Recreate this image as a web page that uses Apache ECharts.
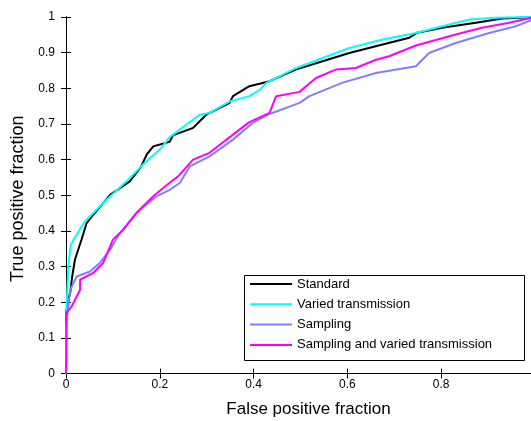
<!DOCTYPE html>
<html>
<head>
<meta charset="utf-8">
<script src="https://cdn.jsdelivr.net/npm/echarts@6/dist/echarts.min.js"></script>
<style>
html,body{margin:0;padding:0;background:#fff;}
#chart{width:531px;height:421px;}
</style>
</head>
<body>
<div id="chart"></div>
<script>
const seriesNames = ['Standard', 'Varied transmission', 'Sampling', 'Sampling and varied transmission'];
const xTicks = [0, 0.2, 0.4, 0.6, 0.8, 1];
const yTicks = [0, 0.1, 0.2, 0.3, 0.4, 0.5, 0.6, 0.7, 0.8, 0.9, 1];

const standardX = [0, 0, 0.005, 0.009, 0.013, 0.019, 0.033, 0.044, 0.058, 0.094, 0.136, 0.16, 0.172, 0.186, 0.221, 0.228, 0.271, 0.299, 0.349, 0.356, 0.391, 0.434, 0.491, 0.547, 0.604, 0.675, 0.732, 0.749, 0.802, 0.874, 0.93, 1];
const standardY = [0, 0.17, 0.21, 0.226, 0.27, 0.319, 0.375, 0.422, 0.445, 0.501, 0.539, 0.58, 0.614, 0.637, 0.65, 0.668, 0.689, 0.726, 0.759, 0.778, 0.806, 0.82, 0.853, 0.876, 0.899, 0.923, 0.942, 0.956, 0.97, 0.984, 0.996, 1];

const variedX = [0, 0.001, 0.005, 0.01, 0.016, 0.04, 0.083, 0.129, 0.164, 0.2, 0.221, 0.285, 0.306, 0.349, 0.391, 0.413, 0.427, 0.491, 0.604, 0.675, 0.746, 0.802, 0.86, 0.916, 1];
const variedY = [0, 0.18, 0.30, 0.36, 0.375, 0.426, 0.483, 0.539, 0.586, 0.628, 0.663, 0.726, 0.731, 0.763, 0.778, 0.796, 0.815, 0.857, 0.913, 0.937, 0.955, 0.974, 0.993, 0.998, 1];

const samplingX = [0, 0, 0.009, 0.023, 0.051, 0.072, 0.094, 0.115, 0.15, 0.193, 0.221, 0.243, 0.264, 0.306, 0.356, 0.398, 0.434, 0.498, 0.519, 0.59, 0.661, 0.746, 0.774, 0.831, 0.902, 0.959, 0.99, 1];
const samplingY = [0, 0.13, 0.235, 0.272, 0.286, 0.31, 0.347, 0.394, 0.45, 0.497, 0.515, 0.535, 0.581, 0.609, 0.656, 0.703, 0.728, 0.759, 0.778, 0.816, 0.843, 0.862, 0.899, 0.927, 0.955, 0.974, 0.99, 1];

const sampVariedX = [0, 0.001, 0.001, 0.012, 0.03, 0.03, 0.058, 0.079, 0.1, 0.122, 0.15, 0.186, 0.221, 0.239, 0.271, 0.306, 0.37, 0.391, 0.434, 0.448, 0.498, 0.533, 0.576, 0.618, 0.661, 0.689, 0.746, 0.831, 0.887, 0.945, 1];
const sampVariedY = [0, 0.03, 0.17, 0.188, 0.235, 0.263, 0.282, 0.31, 0.375, 0.403, 0.45, 0.497, 0.535, 0.553, 0.6, 0.619, 0.684, 0.705, 0.731, 0.778, 0.79, 0.829, 0.853, 0.857, 0.88, 0.89, 0.92, 0.951, 0.97, 0.984, 1];

const colors = ['#000000', '#00ffff', '#8080ff', '#ff00ff'];

function zip(xs, ys) { return xs.map((x, i) => [x, ys[i]]); }
const allData = [zip(standardX, standardY), zip(variedX, variedY), zip(samplingX, samplingY), zip(sampVariedX, sampVariedY)];

const FONT = '"Liberation Sans", Arial, sans-serif';
const chart = echarts.init(document.getElementById('chart'), null, {renderer: 'canvas'});

const tickLbl = v => String(Math.round(v * 10) / 10);

const baseAxis = {
  type: 'value', min: 0, max: 1,
  axisLine: {show: true, lineStyle: {color: '#000', width: 1}},
  axisTick: {show: true, inside: true, length: 5, lineStyle: {color: '#000'}},
  splitLine: {show: false}
};

chart.setOption({
  animation: false,
  backgroundColor: '#fff',
  grid: {left: 66, top: 17, width: 469, height: 356.5, containLabel: false, outerBoundsMode: 'none'},
  xAxis: [
    Object.assign({}, baseAxis, {
      position: 'bottom', interval: 0.2,
      axisLabel: {color: '#000', fontFamily: FONT, fontSize: 12, margin: 5, formatter: tickLbl},
      name: 'False positive fraction', nameLocation: 'middle', nameGap: 27,
      nameTextStyle: {color: '#000', fontFamily: FONT, fontSize: 17, padding: [0, 0, 0, 16]}
    }),
    Object.assign({}, baseAxis, {position: 'top', interval: 0.2, axisLabel: {show: false}})
  ],
  yAxis: [
    Object.assign({}, baseAxis, {
      position: 'left', interval: 0.1,
      axisLabel: {color: '#000', fontFamily: FONT, fontSize: 12, margin: 11, formatter: tickLbl},
      name: 'True positive fraction', nameLocation: 'middle', nameGap: 37,
      nameTextStyle: {color: '#000', fontFamily: FONT, fontSize: 18, padding: [0, 7, 0, 0]}
    }),
    Object.assign({}, baseAxis, {position: 'right', interval: 0.1, axisLabel: {show: false}})
  ],
  legend: {
    orient: 'vertical', left: 250, top: 277,
    icon: 'rect', itemWidth: 42, itemHeight: 2, itemGap: 6.3, itemTextGap: 5,
    padding: 0,
    data: seriesNames,
    textStyle: {color: '#000', fontFamily: FONT, fontSize: 13, lineHeight: 14, height: 14}
  },
  graphic: [{
    type: 'rect', left: 242, top: 273, z: 50,
    shape: {width: 280, height: 85},
    style: {fill: 'none', stroke: '#000', lineWidth: 1}
  }],
  series: seriesNames.map((name, i) => ({
    name: name, type: 'line', data: allData[i],
    xAxisIndex: 0, yAxisIndex: 0,
    symbol: 'none', showSymbol: false,
    lineStyle: {color: colors[i], width: 2},
    itemStyle: {color: colors[i]},
    z: 2 + i
  }))
});
</script>
</body>
</html>
